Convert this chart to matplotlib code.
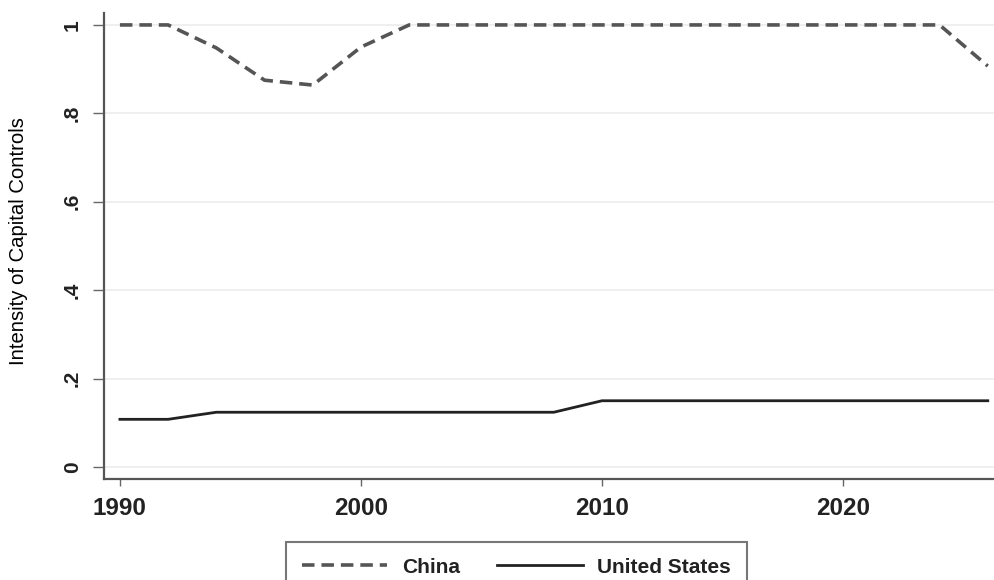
import matplotlib
matplotlib.use("Agg")
from matplotlib import pyplot as plt

plt.rcParams['font.family'] = ['Liberation Sans', 'DejaVu Sans']
plt.rcParams['lines.scale_dashes'] = False

# Data (two-year steps)
years = [1990, 1992, 1994, 1996, 1998, 2000, 2002, 2004, 2006, 2008, 2010,
         2012, 2014, 2016, 2018, 2020, 2022, 2024, 2026]
china = [1.0, 1.0, 0.948, 0.875, 0.864, 0.95, 1.0, 1.0, 1.0, 1.0, 1.0,
         1.0, 1.0, 1.0, 1.0, 1.0, 1.0, 1.0, 0.907]
united_states = [0.108, 0.108, 0.124, 0.124, 0.124, 0.124, 0.124, 0.124, 0.124,
                 0.124, 0.15, 0.15, 0.15, 0.15, 0.15, 0.15, 0.15, 0.15, 0.15]
y_ticks = [0, 0.2, 0.4, 0.6, 0.8, 1.0]
y_labels = ['0', '.2', '.4', '.6', '.8', '1']
x_ticks = [1990, 2000, 2010, 2020]

W, H = 995, 580
fig = plt.figure(figsize=(W / 100, H / 100), dpi=100)
ax = fig.add_axes([104 / W, 1 - 479 / H, (W - 104) / W, (479 - 13) / H])

ax.plot(years, china, color='#555555', lw=2.6, dashes=(9, 5), label='China')
ax.plot(years, united_states, color='#222222', lw=2.0, label='United States')

ax.set_xlim(1989.34, 2026.3)
ax.set_ylim(-0.027, 1.027)

ax.set_yticks(y_ticks)
ax.set_yticklabels(y_labels, rotation=90, va='center', fontsize=15,
                   fontweight='bold', color='#222222')
ax.set_xticks(x_ticks)
ax.set_xticklabels([str(x) for x in x_ticks], fontsize=17.5, fontweight='bold',
                   color='#222222')
ax.tick_params(axis='y', length=8, width=1, color='#666666', pad=8)
ax.tick_params(axis='x', length=5, width=1, color='#666666', pad=8)

ax.grid(axis='y', color='#ececec', lw=1.2)
ax.set_axisbelow(True)
for s in ['top', 'right']:
    ax.spines[s].set_visible(False)
for s in ['left', 'bottom']:
    ax.spines[s].set_color('#555555')
    ax.spines[s].set_linewidth(1.6)

ax.set_ylabel('Intensity of Capital Controls', fontsize=14.6, labelpad=0)
ax.yaxis.set_label_coords(-76 / (W - 104), 0.51)

leg = fig.legend(loc='upper center', bbox_to_anchor=(516.5 / W, 1 - 542 / H),
                 ncol=2, frameon=True, fancybox=False, edgecolor='#555555',
                 handlelength=4.1, columnspacing=1.8, handletextpad=0.7,
                 borderpad=0.75, borderaxespad=0,
                 prop={'size': 15, 'weight': 'bold'})
leg.get_frame().set_linewidth(1.5)
for t in leg.get_texts():
    t.set_color('#222222')

fig.savefig('out.png', dpi=100)
